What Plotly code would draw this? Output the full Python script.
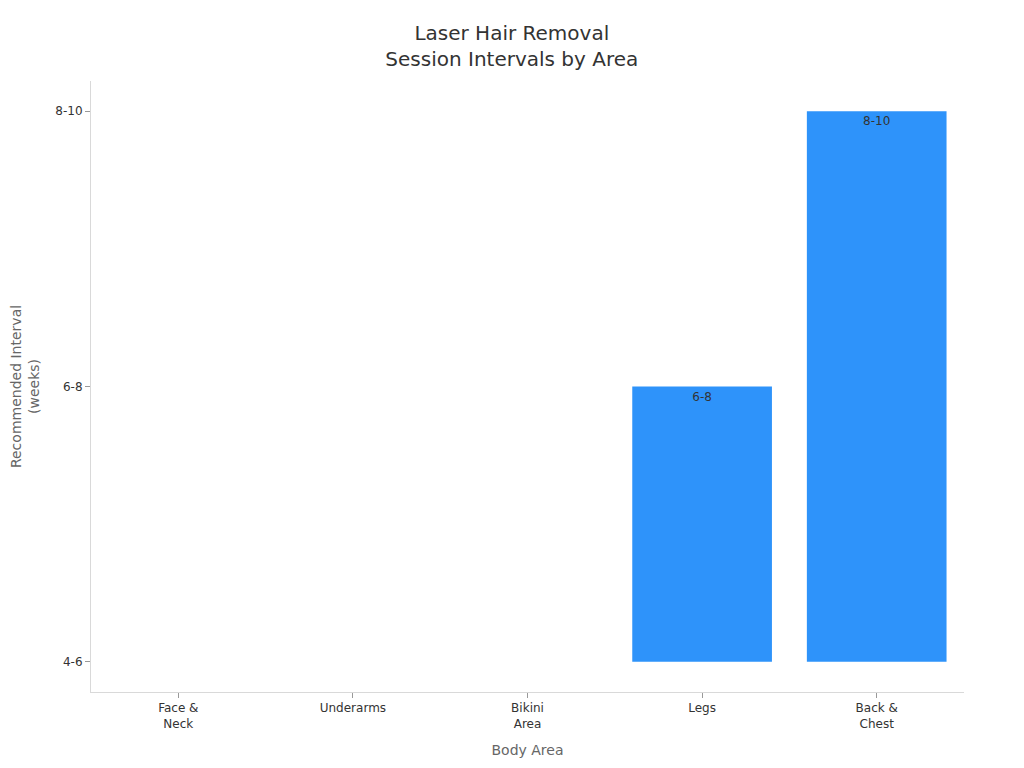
import plotly.graph_objects as go

# Body areas and the recommended interval between sessions (weeks)
areas = ["Face &<br>Neck", "Underarms", "Bikini<br>Area", "Legs", "Back &<br>Chest"]
intervals = ["4-6", "4-6", "4-6", "6-8", "8-10"]
interval_order = ["4-6", "6-8", "8-10"]

fig = go.Figure(
    go.Bar(
        x=areas,
        y=intervals,
        text=intervals,
        textposition="inside",
        insidetextanchor="end",
        insidetextfont=dict(color="#333333", size=12),
        marker=dict(color="#2E93FA", line=dict(width=0)),
    )
)

fig.update_layout(
    width=1024,
    height=768,
    font=dict(family="DejaVu Sans", color="#333333", size=12),
    title=dict(
        text="Laser Hair Removal<br>Session Intervals by Area",
        x=0.492,
        xanchor="center",
        y=0.958,
        font=dict(size=20, color="#333333"),
    ),
    plot_bgcolor="white",
    paper_bgcolor="white",
    margin=dict(l=83, r=68, t=73, b=84),
    bargap=0.2,
    showlegend=False,
)

fig.update_xaxes(
    title=dict(text="Body Area", font=dict(size=14, color="#666666")),
    showline=True,
    linecolor="#D9D9D9",
    ticks="outside",
    tickcolor="#999999",
    ticklen=5,
    showgrid=False,
)
fig.update_yaxes(
    title=dict(text="Recommended Interval<br>(weeks)", font=dict(size=14, color="#666666")),
    automargin=False,
    type="category",
    categoryorder="array",
    categoryarray=interval_order,
    range=[-0.11, 2.11],
    showline=True,
    linecolor="#D9D9D9",
    ticks="outside",
    tickcolor="#999999",
    ticklen=5,
    showgrid=False,
    zeroline=False,
)

fig.write_html("out.html")
